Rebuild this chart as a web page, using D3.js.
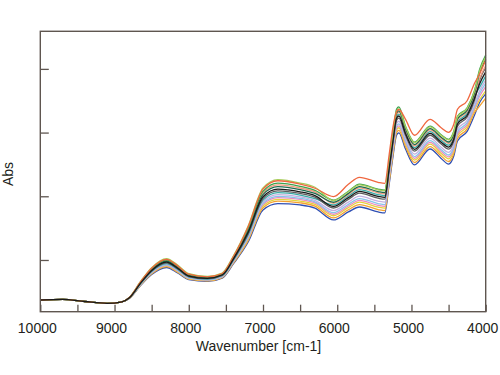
<!DOCTYPE html>
<html lang="en">
<head>
<meta charset="utf-8">
<title>NIR spectra</title>
<script src="https://cdn.jsdelivr.net/npm/d3@7"></script>
<style>
  body { margin: 0; background: #fff; }
  svg { display: block; font-family: "Liberation Sans", Arial, sans-serif; }
  .axis text { font-size: 14px; fill: #231f20; }
  .axis line { stroke: #5f5650; stroke-width: 1.3; }
</style>
</head>
<body>
<svg width="500" height="375"></svg>
<script>
const wavenumbers = [10000, 9700, 9400, 9100, 8900, 8800, 8650, 8500, 8300, 8150, 8000, 7750, 7550, 7400,
  7200, 7000, 6800, 6500, 6300, 6050, 5850, 5700, 5450, 5360, 5300, 5250, 5200, 5170, 5080, 4960,
  4750, 4600, 4500, 4430, 4380, 4250, 4150, 4080, 4000];

const xTicks = [10000, 9500, 9000, 8500, 8000, 7500, 7000, 6500, 6000, 5500, 5000, 4500, 4000];
const yTicks = [0.5, 1.0, 1.5, 2.0];

// absorbance of each sample (arbitrary units, no scale printed)
const blue      = [.186,.190,.174,.160,.172,.198,.299,.386,.441,.398,.345,.332,.358,.469,.641,.893,.943,.932,.907,.814,.877,.916,.877,.869,1.097,1.308,1.481,1.497,1.371,1.246,1.371,1.297,1.253,1.316,1.434,1.509,1.638,1.738,1.804];
const orange    = [.186,.190,.174,.160,.172,.199,.302,.391,.448,.404,.350,.336,.362,.475,.654,.910,.962,.949,.923,.830,.894,.935,.896,.888,1.116,1.327,1.501,1.517,1.390,1.265,1.390,1.317,1.273,1.336,1.454,1.529,1.658,1.710,1.771];
const yellow    = [.186,.190,.174,.160,.172,.199,.305,.395,.453,.409,.353,.339,.365,.480,.663,.923,.976,.962,.936,.847,.911,.954,.915,.907,1.135,1.346,1.522,1.538,1.409,1.284,1.409,1.336,1.294,1.357,1.475,1.548,1.679,1.759,1.828];
const pink      = [.186,.190,.174,.160,.172,.200,.307,.399,.458,.413,.357,.342,.368,.484,.672,.936,.990,.975,.948,.859,.924,.968,.929,.921,1.149,1.360,1.537,1.553,1.423,1.298,1.423,1.351,1.309,1.372,1.490,1.563,1.694,1.787,1.861];
const lightBlue = [.186,.190,.174,.160,.172,.200,.309,.402,.462,.417,.359,.344,.370,.488,.679,.945,.999,.984,.956,.871,.937,.982,.943,.935,1.163,1.374,1.552,1.568,1.437,1.312,1.437,1.366,1.324,1.387,1.505,1.578,1.709,1.809,1.886];
const lavender  = [.186,.190,.174,.160,.172,.201,.311,.406,.467,.421,.363,.347,.373,.492,.688,.957,1.013,.996,.968,.888,.954,1.001,.962,.954,1.182,1.393,1.573,1.589,1.456,1.331,1.456,1.385,1.345,1.408,1.526,1.597,1.730,1.830,1.911];
const teal      = [.186,.190,.174,.160,.172,.202,.313,.410,.472,.426,.367,.350,.376,.497,.698,.970,1.028,1.009,.981,.933,1.002,1.052,1.013,1.005,1.233,1.444,1.629,1.645,1.507,1.382,1.507,1.439,1.401,1.464,1.582,1.651,1.786,1.858,1.944];
const gray      = [.186,.190,.174,.160,.172,.202,.316,.414,.478,.431,.370,.353,.379,.502,.707,.983,1.042,1.022,.993,.908,.976,1.024,.985,.977,1.205,1.416,1.598,1.614,1.479,1.354,1.479,1.410,1.370,1.433,1.551,1.622,1.755,1.914,2.010];
const salmon    = [.186,.190,.174,.160,.172,.204,.323,.427,.494,.445,.381,.362,.388,.516,.739,1.026,1.089,1.065,1.034,.945,1.015,1.066,1.027,1.019,1.247,1.458,1.644,1.660,1.521,1.396,1.521,1.454,1.416,1.479,1.597,1.666,1.801,1.929,2.027];
const darkGreen = [.186,.190,.174,.160,.172,.204,.321,.424,.490,.441,.379,.360,.386,.512,.729,1.013,1.075,1.052,1.022,.953,1.023,1.076,1.037,1.029,1.257,1.468,1.654,1.670,1.531,1.406,1.531,1.464,1.426,1.489,1.607,1.676,1.811,1.971,2.076];
const green     = [.186,.190,.174,.160,.172,.205,.326,.432,.501,.451,.386,.366,.392,.522,.748,1.039,1.103,1.078,1.046,.970,1.040,1.095,1.056,1.048,1.276,1.487,1.685,1.701,1.550,1.425,1.550,1.483,1.447,1.510,1.628,1.695,1.832,1.999,2.109];
const lightGreen= [.186,.190,.174,.160,.172,.206,.331,.440,.511,.460,.393,.372,.398,.531,.767,1.065,1.131,1.104,1.071,.966,1.036,1.090,1.051,1.043,1.271,1.482,1.670,1.686,1.545,1.420,1.545,1.478,1.442,1.505,1.623,1.690,1.827,1.985,2.093];
const redOrange = [.186,.190,.174,.160,.172,.205,.328,.435,.504,.454,.388,.368,.394,.525,.761,1.056,1.122,1.095,1.063,.998,1.094,1.149,1.110,1.102,1.330,1.541,1.665,1.681,1.604,1.479,1.604,1.538,1.502,1.565,1.683,1.750,1.887,1.964,2.068];
const black     = [.186,.190,.174,.160,.172,.203,.318,.418,.483,.435,.374,.356,.382,.506,.717,.996,1.056,1.035,1.005,.921,.989,1.038,.999,.991,1.219,1.430,1.614,1.630,1.493,1.368,1.493,1.424,1.386,1.449,1.567,1.636,1.771,1.886,1.977];

const spectra = [blue, orange, yellow, pink, lightBlue, lavender, teal, gray, salmon, darkGreen, green, lightGreen, redOrange, black];
const colors  = ["#3050b4", "#f4a030", "#e4d33c", "#ec8cbd", "#88c4ea", "#c4b0e0", "#38aaa6", "#5e5e5e", "#f29a7e", "#1d6b4f", "#3da34d", "#a8cd5c", "#f0673f", "#1a1a1a"];

const svg = d3.select("svg");
const plotLeft = 40.3, plotRight = 485.7, plotTop = 31.3, plotBottom = 311.7;

const x = d3.scaleLinear().domain([10000, 4000]).range([plotLeft, plotRight]);
const y = d3.scaleLinear().domain([0.094, 2.295]).range([plotBottom, plotTop]);

const line = d3.line()
  .x((d, i) => x(wavenumbers[i]))
  .y(d => y(d))
  .curve(d3.curveMonotoneX);

svg.append("g")
  .selectAll("path")
  .data(spectra)
  .join("path")
  .attr("d", d => line(d))
  .attr("fill", "none")
  .attr("stroke", (d, i) => colors[i])
  .attr("stroke-width", 1.3);

// x axis, ticks point into the plot
const xAxis = svg.append("g")
  .attr("class", "axis")
  .attr("transform", "translate(0," + plotBottom + ")")
  .call(d3.axisBottom(x).tickValues(xTicks).tickSizeInner(-7).tickSizeOuter(0)
    .tickFormat(d => d % 1000 === 0 ? d : ""));
xAxis.select(".domain").remove();
xAxis.selectAll("text").attr("y", 21.5).attr("dy", 0).attr("dx", -3.5);

const yAxis = svg.append("g")
  .attr("class", "axis")
  .attr("transform", "translate(" + plotLeft + ",0)")
  .call(d3.axisLeft(y).tickValues(yTicks).tickSizeInner(-8.5).tickSizeOuter(0).tickFormat(""));
yAxis.select(".domain").remove();

// frame
svg.append("rect")
  .attr("x", plotLeft).attr("y", plotTop)
  .attr("width", plotRight - plotLeft).attr("height", plotBottom - plotTop)
  .attr("fill", "none")
  .attr("stroke", "#5f5650")
  .attr("stroke-width", 1.4);

svg.append("text")
  .attr("x", (plotLeft + plotRight) / 2 - 4.5)
  .attr("y", 350.5)
  .attr("text-anchor", "middle")
  .style("font-size", "14px")
  .attr("fill", "#231f20")
  .text("Wavenumber [cm-1]");

svg.append("text")
  .attr("transform", "translate(12.7,174) rotate(-90)")
  .attr("text-anchor", "middle")
  .style("font-size", "14px")
  .attr("fill", "#231f20")
  .text("Abs");
</script>
</body>
</html>
